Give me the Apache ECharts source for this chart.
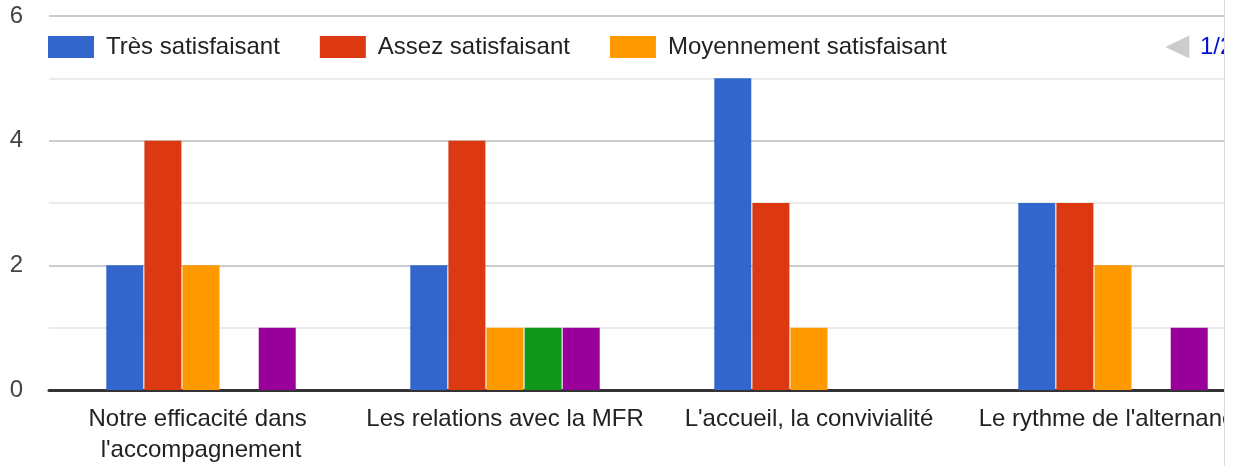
<!DOCTYPE html>
<html>
<head>
<meta charset="utf-8">
<script src="https://cdn.jsdelivr.net/npm/echarts@6/dist/echarts.min.js"></script>
<style>
  html, body { margin: 0; padding: 0; background: #fff; }
  /* the chart is wider than its box and gets cut at the right, like in the form */
  #wrap { width: 1224px; height: 466px; overflow: hidden; border-right: 1px solid #dadce0; }
  #chart { width: 1300px; height: 466px; }
</style>
</head>
<body>
<div id="wrap"><div id="chart"></div></div>
<script>
// categories (questions)
const categories = [
    "Notre efficacité dans l'accompagnement",
    "Les relations avec la MFR",
    "L'accueil, la convivialité",
    "Le rythme de l'alternance"
];

// answers per level
const seriesNames = [
    'Très satisfaisant',
    'Assez satisfaisant',
    'Moyennement satisfaisant',
    'Peu satisfaisant',
    'Pas satisfaisant'
];
const tresSatisfaisant = [2, 2, 5, 3];
const assezSatisfaisant = [4, 4, 3, 3];
const moyennementSatisfaisant = [2, 1, 1, 2];
const peuSatisfaisant = [0, 1, 0, 0];
const pasSatisfaisant = [1, 1, 0, 1];

const colors = ['#3366cc', '#dc3912', '#ff9900', '#109618', '#990099'];

// y axis
const yMin = 0;
const yMax = 6;
const yInterval = 2;

const font = "'Liberation Sans', Arial, sans-serif";

const chartInstance = echarts.init(document.getElementById('chart'));

const values = [tresSatisfaisant, assezSatisfaisant, moyennementSatisfaisant, peuSatisfaisant, pasSatisfaisant];

const option = {
    animation: false,
    color: colors,
    textStyle: { fontFamily: font },
    legend: {
        type: 'scroll',
        left: 43,
        top: 30,
        width: 1220,
        icon: 'rect',
        itemWidth: 46,
        itemHeight: 22,
        itemGap: 40,
        textStyle: { fontSize: 24, color: '#222', fontFamily: font, padding: [0, 0, 0, 7] },
        // big gap so only the first page (3 items) stays visible
        pageButtonGap: 206,
        pageButtonItemGap: 0,
        pageIcons: {
            horizontal: ['path://M0,11.5L24,0L24,23z', 'path://M24,11.5L0,0L0,23z']
        },
        pageIconSize: [24, 23],
        pageIconColor: '#666',
        pageIconInactiveColor: '#ccc',
        pageTextStyle: { color: '#0011cc', fontSize: 24, fontFamily: font },
        data: seriesNames
    },
    grid: { left: 49, width: 1216, top: 16, bottom: 75 },
    xAxis: {
        type: 'category',
        data: categories,
        axisTick: { show: false },
        axisLine: { lineStyle: { color: '#333', width: 3 } },
        axisLabel: {
            interval: 0,
            margin: 14,
            fontSize: 24,
            color: '#222',
            lineHeight: 31,
            width: 300,
            overflow: 'break'
        }
    },
    yAxis: {
        type: 'value',
        min: yMin,
        max: yMax,
        interval: yInterval,
        axisLine: { show: false },
        axisTick: { show: false },
        axisLabel: { fontSize: 24, color: '#444', margin: 26 },
        splitLine: { lineStyle: { color: '#ccc', width: 2 } },
        minorTick: { show: false, splitNumber: 2 },
        minorSplitLine: { show: true, lineStyle: { color: '#ebebeb', width: 2 } }
    },
    series: seriesNames.map((name, i) => ({
        name: name,
        type: 'bar',
        data: values[i],
        barWidth: 37,
        barGap: '3%'
    }))
};

chartInstance.setOption(option);
</script>
</body>
</html>
